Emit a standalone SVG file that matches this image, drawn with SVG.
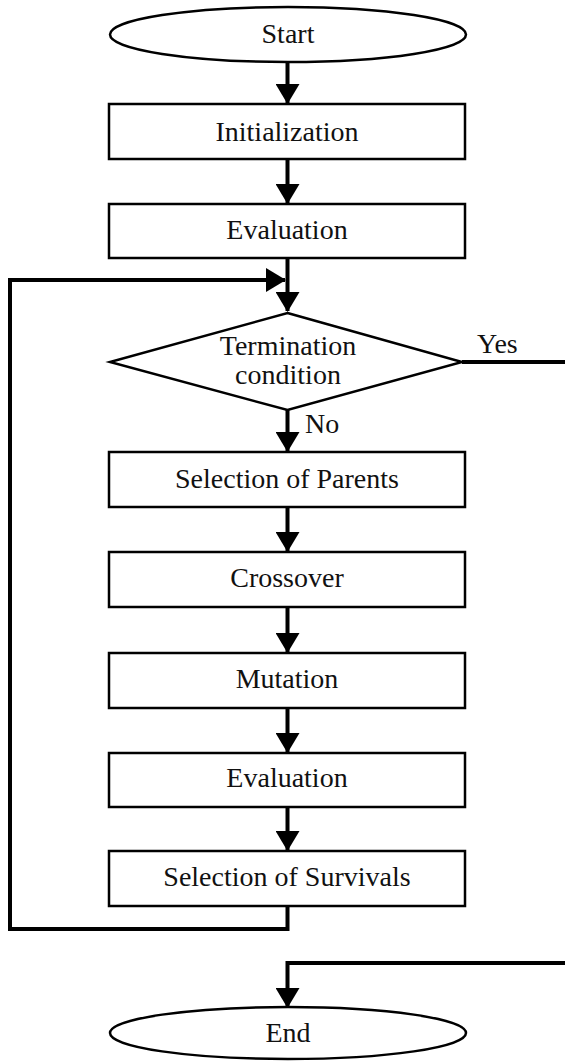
<svg xmlns="http://www.w3.org/2000/svg" width="565" height="1061" viewBox="0 0 565 1061">
  <style>
    .shape { fill: #fff; stroke: #000; stroke-width: 2.5; }
    .label { font-family: "Liberation Serif", "Times New Roman", serif; font-size: 28px; fill: #111; text-anchor: middle; }
    .side { text-anchor: start; }
    .wire { fill: none; stroke: #000; stroke-width: 4; }
  </style>
  <defs>
    <marker id="arrow" markerUnits="userSpaceOnUse" markerWidth="20" markerHeight="24" viewBox="0 0 20 24" refX="19" refY="12" orient="auto">
      <path d="M0,0 L20,12 L0,24 Z" fill="#000"/>
    </marker>
  </defs>

  <!-- connectors -->
  <g id="connectors">
    <path class="wire" d="M287.5 62 V103" marker-end="url(#arrow)"/>
    <path class="wire" d="M287.5 159 V203" marker-end="url(#arrow)"/>
    <path class="wire" d="M287.5 258 V311" marker-end="url(#arrow)"/>
    <path class="wire" d="M287.5 410 V451" marker-end="url(#arrow)"/>
    <path class="wire" d="M287.5 507 V551" marker-end="url(#arrow)"/>
    <path class="wire" d="M287.5 607 V652" marker-end="url(#arrow)"/>
    <path class="wire" d="M287.5 708 V752" marker-end="url(#arrow)"/>
    <path class="wire" d="M287.5 807 V850" marker-end="url(#arrow)"/>
    <!-- loop back to the test -->
    <path class="wire" d="M287.5 906 V929 H10 V280 H285" marker-end="url(#arrow)"/>
    <!-- exit branch -->
    <path class="wire" d="M462 362 H565"/>
    <path class="wire" d="M565 963 H287.5 V1007" marker-end="url(#arrow)"/>
    <text class="label side" x="477" y="353">Yes</text>
    <text class="label side" x="305" y="433">No</text>
  </g>

  <g id="start">
    <ellipse class="shape" cx="288" cy="34.5" rx="178" ry="27.5"/>
    <text class="label" x="288" y="43">Start</text>
  </g>
  <g id="initialization">
    <rect class="shape" x="109" y="104" width="356" height="55"/>
    <text class="label" x="287" y="141">Initialization</text>
  </g>
  <g id="evaluation1">
    <rect class="shape" x="109" y="204" width="356" height="54"/>
    <text class="label" x="287" y="239">Evaluation</text>
  </g>
  <g id="termination">
    <polygon class="shape" points="287.5,313 462,362 287.5,410 110,362"/>
    <text class="label" x="288" y="355">Termination</text>
    <text class="label" x="288" y="384">condition</text>
  </g>
  <g id="selection-parents">
    <rect class="shape" x="109" y="452" width="356" height="55"/>
    <text class="label" x="287" y="488">Selection of Parents</text>
  </g>
  <g id="crossover">
    <rect class="shape" x="109" y="552" width="356" height="55"/>
    <text class="label" x="287" y="587">Crossover</text>
  </g>
  <g id="mutation">
    <rect class="shape" x="109" y="653" width="356" height="55"/>
    <text class="label" x="287" y="688">Mutation</text>
  </g>
  <g id="evaluation2">
    <rect class="shape" x="109" y="753" width="356" height="54"/>
    <text class="label" x="287" y="787">Evaluation</text>
  </g>
  <g id="selection-survivals">
    <rect class="shape" x="109" y="851" width="356" height="55"/>
    <text class="label" x="287" y="886">Selection of Survivals</text>
  </g>
  <g id="end">
    <ellipse class="shape" cx="288" cy="1033" rx="178" ry="26"/>
    <text class="label" x="288" y="1042">End</text>
  </g>
</svg>
